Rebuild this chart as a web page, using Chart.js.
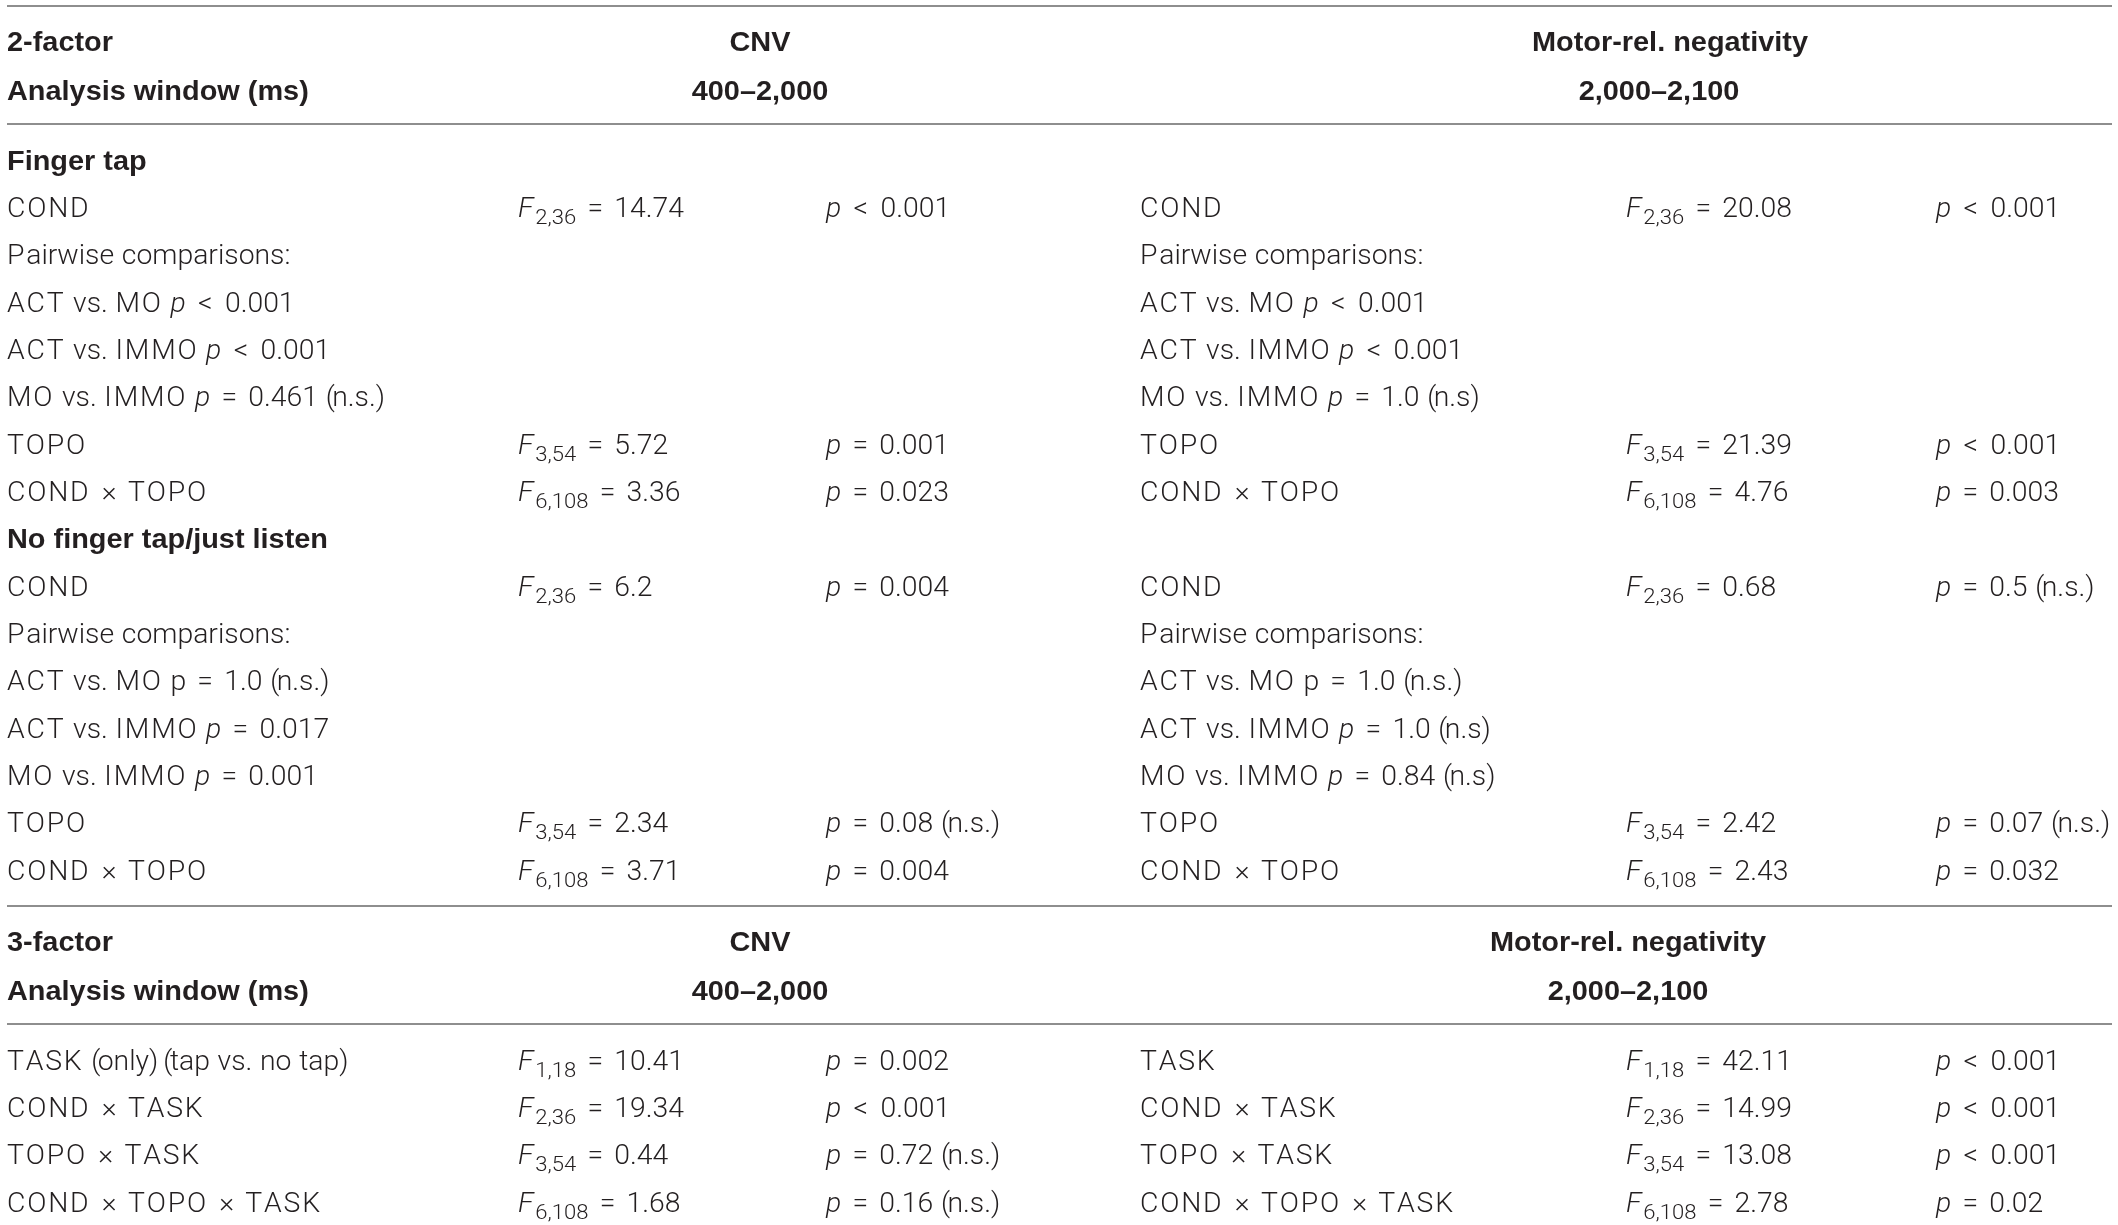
<!DOCTYPE html>
<html>
<head>
<meta charset="utf-8">
<title>ANOVA results table</title>
<script src="https://cdn.jsdelivr.net/npm/chart.js@4.4.1/dist/chart.umd.min.js"></script>
<style>
  html, body { margin: 0; padding: 0; background: #fff; overflow: hidden; }
  #wrap { position: relative; width: 2118px; height: 1225px; }
</style>
</head>
<body>
<div id="wrap"><canvas id="chart"></canvas></div>
<script>
// Table content. Markup: *x* = italic, _{..} = subscript
const sections = ['2-factor', '3-factor'];
const windowLabel = 'Analysis window (ms)';
const components = ['CNV', 'Motor-rel. negativity'];
const windows = ['400–2,000', '2,000–2,100'];

// 2-factor block (group headings are rows too)
const groups2 = ['Finger tap', 'No finger tap/just listen'];

const cnvTerms2 = [
  ['COND', 'Pairwise comparisons:', 'ACT vs. MO *p* < 0.001', 'ACT vs. IMMO *p* < 0.001',
   'MO vs. IMMO *p* = 0.461 (n.s.)', 'TOPO', 'COND × TOPO'],
  ['COND', 'Pairwise comparisons:', 'ACT vs. MO p = 1.0 (n.s.)', 'ACT vs. IMMO *p* = 0.017',
   'MO vs. IMMO *p* = 0.001', 'TOPO', 'COND × TOPO']
];
const cnvF2 = [
  ['*F*_{2,36} = 14.74', '', '', '', '', '*F*_{3,54} = 5.72', '*F*_{6,108} = 3.36'],
  ['*F*_{2,36} = 6.2', '', '', '', '', '*F*_{3,54} = 2.34', '*F*_{6,108} = 3.71']
];
const cnvP2 = [
  ['*p* < 0.001', '', '', '', '', '*p* = 0.001', '*p* = 0.023'],
  ['*p* = 0.004', '', '', '', '', '*p* = 0.08 (n.s.)', '*p* = 0.004']
];

const mrnTerms2 = [
  ['COND', 'Pairwise comparisons:', 'ACT vs. MO *p* < 0.001', 'ACT vs. IMMO *p* < 0.001',
   'MO vs. IMMO *p* = 1.0 (n.s)', 'TOPO', 'COND × TOPO'],
  ['COND', 'Pairwise comparisons:', 'ACT vs. MO p = 1.0 (n.s.)', 'ACT vs. IMMO *p* = 1.0 (n.s)',
   'MO vs. IMMO *p* = 0.84 (n.s)', 'TOPO', 'COND × TOPO']
];
const mrnF2 = [
  ['*F*_{2,36} = 20.08', '', '', '', '', '*F*_{3,54} = 21.39', '*F*_{6,108} = 4.76'],
  ['*F*_{2,36} = 0.68', '', '', '', '', '*F*_{3,54} = 2.42', '*F*_{6,108} = 2.43']
];
const mrnP2 = [
  ['*p* < 0.001', '', '', '', '', '*p* < 0.001', '*p* = 0.003'],
  ['*p* = 0.5 (n.s.)', '', '', '', '', '*p* = 0.07 (n.s.)', '*p* = 0.032']
];

// 3-factor block
const cnvTerms3 = ['TASK (only) (tap vs. no tap)', 'COND × TASK', 'TOPO × TASK', 'COND × TOPO × TASK'];
const cnvF3 = ['*F*_{1,18} = 10.41', '*F*_{2,36} = 19.34', '*F*_{3,54} = 0.44', '*F*_{6,108} = 1.68'];
const cnvP3 = ['*p* = 0.002', '*p* < 0.001', '*p* = 0.72 (n.s.)', '*p* = 0.16 (n.s.)'];

const mrnTerms3 = ['TASK', 'COND × TASK', 'TOPO × TASK', 'COND × TOPO × TASK'];
const mrnF3 = ['*F*_{1,18} = 42.11', '*F*_{2,36} = 14.99', '*F*_{3,54} = 13.08', '*F*_{6,108} = 2.78'];
const mrnP3 = ['*p* < 0.001', '*p* < 0.001', '*p* < 0.001', '*p* = 0.02'];

// ---- layout (x in canvas px, y in body-row units) ----
const W = 2118, H = 1225;
const ROW_PX = 47.33;
const FIRST_BODY_PX = 160;
const COL_X = [7, 518, 826, 1140, 1626, 1936];
const HEAD_X = [
  { comp: [760, 1670], win: [760, 1659] },
  { comp: [760, 1628], win: [760, 1628] }
];
const RULE_X = [7, 2112];
const LIGHT = 'Roboto, "Liberation Sans", Arial, sans-serif';
const BOLD = '"Liberation Sans", Arial, Helvetica, sans-serif';
const SIZE = 27, SUB_SIZE = 21, SUB_DROP = 7;
const BOLD_STRETCH = 1.07;
const LIGHT_STRETCH = 1.05;
const INK = '#231f20';
const RULE = '#8e8e8e';

// spacing tweaks so Roboto Light sets as wide as the source face
function extraAfter(ch) {
  if (ch >= 'A' && ch <= 'Z') return 1.7;
  if (ch === ' ') return 0.7;
  if (ch === '(' || ch === ')') return -2.4;
  return 0;
}
function padAround(ch) {
  if (ch === '×') return 3.5;
  if (ch === '<') return 4.5;
  if (ch === '=') return 3.4;
  return 0;
}

const yMin = -FIRST_BODY_PX / ROW_PX;
const yMax = yMin + H / ROW_PX;

const textSets = [];   // {x, y, text, bold, align}
const rules = [];      // y values

function cell(x, y, text, bold, align) {
  if (text) textSets.push({ x, y, text, bold: !!bold, align: align || 'left' });
}

function header(si, h) {
  const h2 = h + 1.035;
  cell(COL_X[0], h, sections[si], true);
  cell(COL_X[0], h2, windowLabel, true);
  components.forEach((c, i) => cell(HEAD_X[si].comp[i], h, c, true, 'center'));
  windows.forEach((w, i) => cell(HEAD_X[si].win[i], h2, w, true, 'center'));
  rules.push(h2 + 0.72);
  return h2 + 1.48;
}

const h1 = -2.515;
rules.push(h1 - 0.74);
let y = header(0, h1);
groups2.forEach((g, gi) => {
  cell(COL_X[0], y, g, true);
  y += 1;
  cnvTerms2[gi].forEach((t, ri) => {
    cell(COL_X[0], y, t);
    cell(COL_X[1], y, cnvF2[gi][ri]);
    cell(COL_X[2], y, cnvP2[gi][ri]);
    cell(COL_X[3], y, mrnTerms2[gi][ri]);
    cell(COL_X[4], y, mrnF2[gi][ri]);
    cell(COL_X[5], y, mrnP2[gi][ri]);
    y += 1;
  });
});
const lastRow = y - 1;
rules.push(lastRow + 0.76);
y = header(1, lastRow + 1.5);
cnvTerms3.forEach((t, ri) => {
  cell(COL_X[0], y, t);
  cell(COL_X[1], y, cnvF3[ri]);
  cell(COL_X[2], y, cnvP3[ri]);
  cell(COL_X[3], y, mrnTerms3[ri]);
  cell(COL_X[4], y, mrnF3[ri]);
  cell(COL_X[5], y, mrnP3[ri]);
  y += 1;
});

// ---- rich text drawing ----
function tokens(str) {
  const out = [];
  const re = /\*([^*]+)\*|_\{([^}]+)\}|([^*_]+)/g;
  let m;
  while ((m = re.exec(str))) {
    if (m[1] !== undefined) out.push({ t: m[1], kind: 'it' });
    else if (m[2] !== undefined) out.push({ t: m[2], kind: 'sub' });
    else out.push({ t: m[3], kind: 'n' });
  }
  return out;
}
function fontFor(kind) {
  if (kind === 'it') return 'italic 300 ' + SIZE + 'px ' + LIGHT;
  if (kind === 'sub') return '300 ' + SUB_SIZE + 'px ' + LIGHT;
  return '300 ' + SIZE + 'px ' + LIGHT;
}

// lay out light text char by char: [{ch, font, dx, dy}], total width
function layoutLight(ctx, text) {
  const glyphs = [];
  let x = 0;
  tokens(text).forEach(p => {
    const font = fontFor(p.kind);
    ctx.font = font;
    for (const ch of p.t) {
      const pad = padAround(ch);
      x += pad;
      glyphs.push({ ch, font, dx: x, dy: p.kind === 'sub' ? SUB_DROP : 0 });
      x += ctx.measureText(ch).width + pad + (p.kind === 'sub' ? 0 : extraAfter(ch));
    }
  });
  return { glyphs, width: x };
}

const tablePlugin = {
  id: 'tableText',
  afterDatasetsDraw(chart) {
    const ctx = chart.ctx;
    const meta = chart.getDatasetMeta(0);
    ctx.save();
    ctx.fillStyle = INK;
    ctx.textBaseline = 'alphabetic';
    ctx.textAlign = 'left';
    meta.data.forEach((pt, i) => {
      const d = chart.data.datasets[0].data[i];
      ctx.save();
      ctx.translate(pt.x, pt.y + SIZE * 0.36);
      if (d.bold) {
        ctx.scale(BOLD_STRETCH, 1);
        ctx.font = '700 ' + SIZE + 'px ' + BOLD;
        const w = ctx.measureText(d.text).width;
        ctx.fillText(d.text, d.align === 'center' ? -w / 2 : 0, 0);
      } else {
        ctx.scale(LIGHT_STRETCH, 1);
        const lay = layoutLight(ctx, d.text);
        const x0 = d.align === 'center' ? -lay.width / 2 : 0;
        lay.glyphs.forEach(g => {
          ctx.font = g.font;
          ctx.fillText(g.ch, x0 + g.dx, g.dy);
        });
      }
      ctx.restore();
    });
    ctx.restore();
  }
};

const datasets = [{
  type: 'scatter',
  data: textSets,
  pointRadius: 0,
  pointHoverRadius: 0,
  showLine: false
}];
rules.forEach(r => datasets.push({
  type: 'line',
  data: [{ x: RULE_X[0], y: r }, { x: RULE_X[1], y: r }],
  borderColor: RULE,
  borderWidth: 2,
  pointRadius: 0,
  fill: false
}));

new Chart(document.getElementById('chart'), {
  data: { datasets },
  options: {
    responsive: true,
    maintainAspectRatio: false,
    animation: false,
    events: [],
    layout: { padding: 0 },
    plugins: { legend: { display: false }, tooltip: { enabled: false } },
    scales: {
      x: { type: 'linear', min: 0, max: W, display: false },
      y: { type: 'linear', min: yMin, max: yMax, reverse: true, display: false }
    }
  },
  plugins: [tablePlugin]
});
</script>
</body>
</html>
